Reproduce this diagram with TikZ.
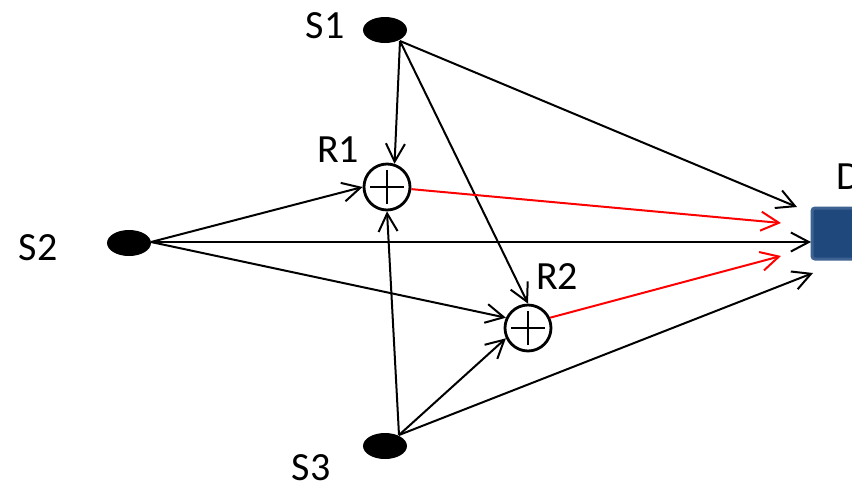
\documentclass[tikz,border=0pt]{standalone}
\usepackage{fontspec}
\setmainfont{Carlito}
\usetikzlibrary{arrows.meta,shapes.geometric}
\definecolor{dfill}{RGB}{31,73,125}
\definecolor{dedge}{RGB}{62,98,145}
\begin{document}
\begin{tikzpicture}[x=1pt,y=-1pt,
  src/.style={ellipse, fill=black, inner sep=0pt, minimum width=44pt, minimum height=26pt},
  relay/.style={circle, draw=black, line width=2.8pt, inner sep=0pt, minimum size=46pt,
    path picture={\draw[line width=2.6pt]
      ([xshift=-17pt]path picture bounding box.center) -- ([xshift=17pt]path picture bounding box.center)
      ([yshift=-17pt]path picture bounding box.center) -- ([yshift=17pt]path picture bounding box.center);}},
  lbl/.style={font=\fontsize{40}{42}\selectfont, inner sep=0pt},
  link/.style={draw=black, line width=2pt, -{Straight Barb[length=18pt,width=19pt,line width=2pt]}},
  fwd/.style={link, draw=red, -{Straight Barb[length=18pt,width=19pt,line width=2pt,color=red]}}]
\useasboundingbox (0,0) rectangle (852,491);
\clip (0,0) rectangle (852,491);

% sources
\node[src] (S1) at (385,30) {};
\node[src] (S2) at (129,243) {};
\node[src] (S3) at (385,446) {};
\node[lbl] (S1l) at (325,26) {S1};
\node[lbl] (S2l) at (38,248) {S2};
\node[lbl] (S3l) at (311,468) {S3};

% relays
\node[relay] (R1) at (387,187) {};
\node[relay] (R2) at (528,328) {};
\node[lbl] (R1l) at (338,150) {R1};
\node[lbl] (R2l) at (557,277) {R2};

% destination
\node[rectangle, rounded corners=3pt, fill=dfill, draw=dedge, line width=3pt,
  minimum width=60pt, minimum height=51pt, inner sep=0pt] (D) at (842,233.5) {};
\node[lbl, anchor=base west] (Dl) at (836,189) {D};

% exit points on the sources
\coordinate (s1o) at (400,41);
\coordinate (s2o) at (151,242);
\coordinate (s3o) at (399,435);
% arrival points near the destination
\coordinate (d1) at (797,207);
\coordinate (d2) at (811,242);
\coordinate (d3) at (813,273);
\coordinate (dr1) at (781,223);
\coordinate (dr2) at (781,256);

% direct and relayed links
\draw[link] (s1o) -- (R1.72);
\draw[link] (s1o) -- (R2.north);
\draw[link] (s1o) -- (d1);
\draw[link] (s2o) -- (R1.west);
\draw[link] (s2o) -- (d2);
\draw[link] (s2o) -- (R2.155);
\draw[link] (s3o) -- (R1.south);
\draw[link] (s3o) -- (R2.205);
\draw[link] (s3o) -- (d3);

% relay forwarding
\draw[fwd] (R1.-5) -- (dr1);
\draw[fwd] (R2.25) -- (dr2);
\end{tikzpicture}
\end{document}
